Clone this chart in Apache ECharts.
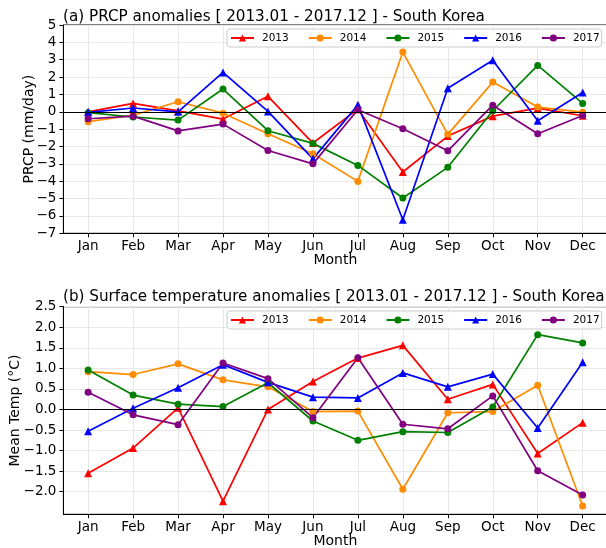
<!DOCTYPE html>
<html>
<head>
<meta charset="utf-8">
<script src="https://cdn.jsdelivr.net/npm/echarts@6/dist/echarts.min.js"></script>
<style>
  html, body { margin: 0; padding: 0; background: #ffffff; }
  #chart { width: 606px; height: 548px; }
</style>
</head>
<body>
<div id="chart"></div>
<script>
// Month labels and year series
const months = ['Jan', 'Feb', 'Mar', 'Apr', 'May', 'Jun', 'Jul', 'Aug', 'Sep', 'Oct', 'Nov', 'Dec'];
const years = ['2013', '2014', '2015', '2016', '2017'];

// (a) precipitation anomalies, mm/day
const prcp2013 = [0.00, 0.48, 0.05, -0.42, 0.89, -1.80, 0.15, -3.47, -1.40, -0.25, 0.21, -0.23];
const prcp2014 = [-0.57, -0.20, 0.58, -0.08, -1.27, -2.42, -4.01, 3.44, -1.30, 1.71, 0.27, -0.02];
const prcp2015 = [-0.05, -0.30, -0.48, 1.31, -1.09, -1.82, -3.09, -4.97, -3.20, 0.06, 2.67, 0.48];
const prcp2016 = [-0.03, 0.22, 0.00, 2.27, 0.02, -2.71, 0.40, -6.22, 1.36, 2.97, -0.52, 1.11];
const prcp2017 = [-0.40, -0.25, -1.10, -0.71, -2.23, -3.00, 0.12, -0.98, -2.25, 0.38, -1.27, -0.21];

// (b) surface temperature anomalies, °C
const temp2013 = [-1.55, -0.94, 0.04, -2.23, 0.00, 0.68, 1.25, 1.56, 0.25, 0.61, -1.07, -0.32];
const temp2014 = [0.92, 0.85, 1.11, 0.72, 0.55, -0.05, -0.04, -1.94, -0.08, -0.05, 0.59, -2.35];
const temp2015 = [0.96, 0.35, 0.13, 0.07, 0.65, -0.28, -0.75, -0.54, -0.56, 0.06, 1.82, 1.62];
const temp2016 = [-0.53, 0.03, 0.53, 1.09, 0.66, 0.30, 0.28, 0.89, 0.55, 0.86, -0.45, 1.15];
const temp2017 = [0.42, -0.13, -0.37, 1.13, 0.75, -0.20, 1.26, -0.36, -0.47, 0.33, -1.49, -2.08];

// Axis tick values
const monthTicks = [0, 1, 2, 3, 4, 5, 6, 7, 8, 9, 10, 11];
const prcpTicks = [-7, -6, -5, -4, -3, -2, -1, 0, 1, 2, 3, 4, 5];
const tempTicks = [-2.0, -1.5, -1.0, -0.5, 0.0, 0.5, 1.0, 1.5, 2.0, 2.5];

const prcpData = [prcp2013, prcp2014, prcp2015, prcp2016, prcp2017];
const tempData = [temp2013, temp2014, temp2015, temp2016, temp2017];

const colors = ['#ff0000', '#ff8c00', '#008000', '#0000ff', '#800080'];
const symbols = ['triangle', 'circle', 'circle', 'triangle', 'circle'];
const FONT = 'DejaVu Sans';

const minus = s => String(s).replace('-', '\u2212');

function monthAxis(gridIndex) {
  return {
    type: 'value', gridIndex: gridIndex, min: -0.55, max: 11.55,
    name: 'Month', nameLocation: 'middle', nameGap: 20, nameMoveOverlap: false,
    nameTextStyle: { fontSize: 14, color: '#000', fontFamily: FONT },
    axisLine: { onZero: false, lineStyle: { color: '#000', width: 1 } },
    axisTick: { customValues: monthTicks, length: 4, lineStyle: { color: '#000', width: 1 } },
    axisLabel: {
      customValues: monthTicks, margin: 6, fontSize: 13.5, color: '#000', fontFamily: FONT,
      formatter: v => months[Math.round(v)]
    },
    splitLine: { show: true, lineStyle: { color: '#e8e8e8', width: 1 } }
  };
}

function valueAxis(gridIndex, min, max, ticks, name, gap, fmt) {
  return {
    type: 'value', gridIndex: gridIndex, min: min, max: max,
    name: name, nameLocation: 'middle', nameGap: gap, nameRotate: 90, nameMoveOverlap: false,
    nameTextStyle: { fontSize: 14, color: '#000', fontFamily: FONT },
    axisLine: { show: true, onZero: false, lineStyle: { color: '#000', width: 1 } },
    axisTick: { show: true, customValues: ticks, length: 4, lineStyle: { color: '#000', width: 1 } },
    axisLabel: { customValues: ticks, margin: 7, fontSize: 13.5, color: '#000', fontFamily: FONT, formatter: fmt },
    splitLine: { show: true, lineStyle: { color: '#e8e8e8', width: 1 } }
  };
}

function makeSeries(dataSets, axisIndex) {
  return dataSets.map((vals, k) => {
    const s = {
      name: years[k], type: 'line',
      xAxisIndex: axisIndex, yAxisIndex: axisIndex,
      data: vals.map((v, i) => [i, v]),
      symbol: symbols[k], symbolSize: symbols[k] === 'triangle' ? 8 : 7,
      lineStyle: { color: colors[k], width: 1.7 },
      itemStyle: { color: colors[k] },
      emphasis: { disabled: true },
      animation: false
    };
    if (k === 0) {
      s.markLine = {
        silent: true, symbol: ['none', 'none'], label: { show: false },
        lineStyle: { color: '#000', width: 1.2, type: 'solid' },
        data: [{ yAxis: 0 }], animation: false
      };
    }
    return s;
  });
}

function legendAt(top) {
  return {
    data: years, left: 227, top: top, orient: 'horizontal',
    itemWidth: 23, itemHeight: 9, itemGap: 19,
    padding: [3.5, 2, 3.5, 3],
    backgroundColor: 'rgba(255,255,255,0.85)',
    borderColor: '#cccccc', borderWidth: 1, borderRadius: 3,
    textStyle: { fontSize: 10.5, color: '#000', fontFamily: FONT, padding: [0, 0, 0, 3] }
  };
}

const gridBase = {
  left: 63.4, width: 544, show: true, borderColor: '#000', borderWidth: 1,
  backgroundColor: 'transparent', outerBoundsMode: 'none', containLabel: false
};

const chart = echarts.init(document.getElementById('chart'), null, { renderer: 'canvas' });
chart.setOption({
  backgroundColor: '#ffffff',
  animation: false,
  title: [
    { text: '(a) PRCP anomalies [ 2013.01 - 2017.12 ] - South Korea', left: 63, top: 9.5, padding: 0,
      textStyle: { fontSize: 15.2, fontWeight: 'normal', color: '#000', fontFamily: FONT } },
    { text: '(b) Surface temperature anomalies [ 2013.01 - 2017.12 ] - South Korea', left: 63, top: 290, padding: 0,
      textStyle: { fontSize: 15.2, fontWeight: 'normal', color: '#000', fontFamily: FONT } }
  ],
  legend: [legendAt(29), legendAt(311)],
  grid: [
    Object.assign({ top: 25, height: 208.3 }, gridBase),
    Object.assign({ top: 306.7, height: 207.6 }, gridBase)
  ],
  xAxis: [monthAxis(0), monthAxis(1)],
  yAxis: [
    valueAxis(0, -7, 5, prcpTicks, 'PRCP (mm/day)', 27, v => minus(Math.round(v))),
    valueAxis(1, -2.55, 2.5, tempTicks, 'Mean Temp (\u00B0C)', 41, v => minus(v.toFixed(1)))
  ],
  series: makeSeries(prcpData, 0).concat(makeSeries(tempData, 1))
});
</script>
</body>
</html>
